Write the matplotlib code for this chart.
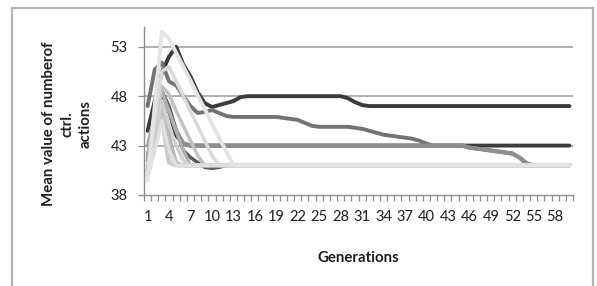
import matplotlib
matplotlib.use("Agg")
import matplotlib.pyplot as plt
from matplotlib.patches import Rectangle
import numpy as np

generations = list(range(1, 61))
tick_labels = [str(g) for g in range(1, 61, 3)]

# series values (gens 1..60)
dark_top = [44.5, 47.5, 50.4, 52.0, 53.0, 51.2, 50.0, 48.4, 47.3, 46.9, 47.1, 47.3, 47.5, 47.9] \
    + [48.0] * 14 + [47.8, 47.4, 47.1] + [47.0] * 29
mid_desc = [47.0, 50.7, 51.4, 49.5, 49.1, 48.0, 47.0, 46.3, 46.4, 46.6, 46.3, 46.0] \
    + [45.9] * 7 + [45.8, 45.7, 45.6, 45.3, 45.0] + [44.9] * 5 \
    + [44.8, 44.7, 44.5, 44.3, 44.1, 44.0, 43.9, 43.8, 43.7, 43.5] + [43.2] \
    + [43.0] * 5 + [42.8, 42.7, 42.6, 42.5, 42.4, 42.3, 42.2, 41.8] + [41.2] + [41.0] * 6
dark_43 = [40.5, 44.0, 48.0, 46.5, 44.0, 43.2] + [43.0] * 54
gray_43 = [41.5, 44.0, 47.5, 46.5, 44.5, 43.2] + [43.0] * 39 \
    + [42.8, 42.7, 42.6, 42.5, 42.4, 42.3, 42.2, 41.8, 41.2] + [41.0] * 6
dip_41 = [42.0, 45.0, 48.5, 47.0, 44.5, 42.5, 41.8, 41.3, 40.8, 40.7, 40.8] + [41.0] * 49
light_a = [42.0, 45.5, 48.5, 46.5, 44.5, 42.5] + [41.0] * 54
light_b = [43.0, 46.0, 47.5, 44.0, 41.2] + [41.0] * 55
light_c = [41.0, 44.5, 49.0, 48.2, 46.5, 45.0, 43.5, 42.0] + [41.0] * 52
light_d = [41.5, 43.0, 46.5, 43.5, 41.3] + [41.0] * 55
light_e = [40.5, 43.5, 47.5, 45.0, 43.0, 41.5] + [41.0] * 54
light_f = [40.0, 45.5, 50.5, 51.0, 49.5, 48.0, 46.5, 45.0, 43.5, 42.0] + [41.0] * 50
light_g = [39.8, 42.5, 45.5, 42.5] + [41.0] * 56
light_h = [40.0, 43.0, 45.8, 41.3] + [41.0] * 56
light_top = [39.5, 47.0, 54.5, 53.8, 52.4, 51.0, 49.6, 48.1, 46.7, 45.2, 43.8, 42.4] + [41.0] * 48

series = [
    (dark_43, "#3c3c3c", 2.8),
    (dark_top, "#3a3a3a", 2.8),
    (mid_desc, "#737373", 2.8),
    (gray_43, "#8e8e8e", 3.0),
    (dip_41, "#5a5a5a", 2.5),
    (light_b, "#a5a5a5", 2.5),
    (light_a, "#b0b0b0", 2.5),
    (light_d, "#bdbdbd", 2.5),
    (light_c, "#c2c2c2", 2.5),
    (light_e, "#cfcfcf", 2.5),
    (light_h, "#c8c8c8", 3.2),
    (light_f, "#d9d9d9", 2.5),
    (light_g, "#e0e0e0", 2.5),
    (light_top, "#e4e4e4", 2.8),
]

W, H = 597, 286
fig = plt.figure(figsize=(W / 100, H / 100), dpi=100)
fig.patch.set_facecolor("white")

# outer border
fig.add_artist(Rectangle((12 / W, -0.1), (593 - 12) / W, 1.1 - 8 / H,
                         transform=fig.transFigure, fill=False,
                         edgecolor="#b4b4b4", lw=1.6))

ax = fig.add_axes([144 / W, (H - 195) / H, (573 - 144) / W, (195 - 27) / H])
x = np.arange(len(generations))
for vals, col, lw in series:
    ax.plot(x, vals, color=col, lw=lw, solid_capstyle="round", solid_joinstyle="round")

ax.set_xlim(-0.5, len(generations) - 0.5)
ax.set_ylim(38, 55)
ax.set_yticks([38, 43, 48, 53])
for yv in [43, 48, 53]:
    ax.axhline(yv, color="#9a9a9a", lw=1.1, zorder=0)

ax.set_xticks(np.arange(0, 60, 3))
ax.set_xticklabels(tick_labels)
ax.set_xticks(np.arange(-0.5, 60.5, 1), minor=True)

for s in ["top", "right"]:
    ax.spines[s].set_visible(False)
for s in ["left", "bottom"]:
    ax.spines[s].set_color("#8c8c8c")
    ax.spines[s].set_linewidth(1.0)

font = "Lato"
tc = "#1e1e1e"
ax.tick_params(axis="x", which="major", length=0, pad=11, labelsize=10.5, labelcolor=tc)
ax.tick_params(axis="x", which="minor", length=4, width=0.9, color="#8c8c8c", direction="out")
ax.tick_params(axis="y", length=4, width=0.9, color="#8c8c8c", direction="out",
               pad=8, labelsize=10.5, labelcolor=tc)
for lab in ax.get_xticklabels() + ax.get_yticklabels():
    lab.set_fontfamily(font)

fig.text(358 / W, 1 - 258 / H, "Generations", ha="center", va="center",
         fontsize=10.8, fontweight="bold", family=font, color=tc)
fig.text(67 / W, 1 - 124 / H, "Mean value of numberof\nctrl.\nactions", ha="center", va="center",
         rotation=90, fontsize=10.8, fontweight="bold", family=font, color=tc,
         multialignment="center", linespacing=1.4)

fig.savefig("out.png", dpi=100, facecolor="white")
